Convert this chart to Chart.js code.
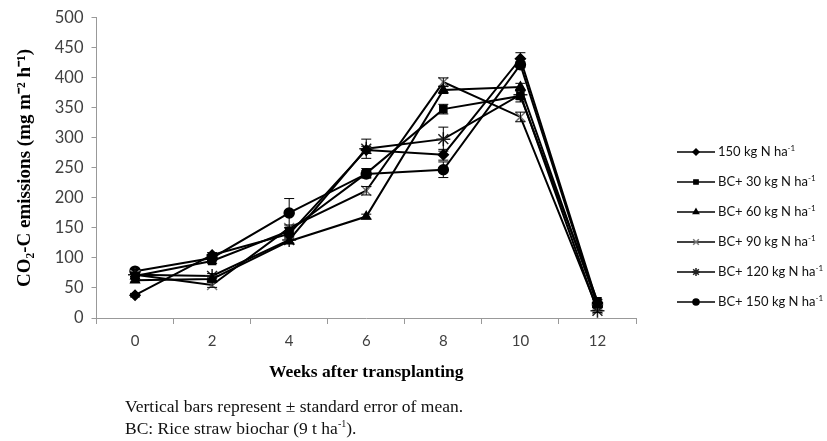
<!DOCTYPE html>
<html>
<head>
<meta charset="utf-8">
<script src="https://cdn.jsdelivr.net/npm/chart.js@4.4.0/dist/chart.umd.min.js"></script>
<style>
  body { margin: 0; background: #fff; }
  #wrap { position: relative; width: 827px; height: 441px; }
  #chart { position: absolute; left: 0; top: 0; }
  .note { position: absolute; left: 125px; font-family: "Liberation Serif", serif; font-size: 17.5px; color: #111; white-space: nowrap; }
  .note sup { font-size: 10px; }
</style>
</head>
<body>
<div id="wrap">
  <canvas id="chart" width="827" height="441"></canvas>
  <div class="note" style="top:396px">Vertical bars represent ± standard error of mean.</div>
  <div class="note" style="top:418px">BC: Rice straw biochar (9 t ha<sup>-1</sup>).</div>
</div>
<script>
// weeks after transplanting
const weeks = ['0', '2', '4', '6', '8', '10', '12'];
const yTicks = [0, 50, 100, 150, 200, 250, 300, 350, 400, 450, 500];

// CO2-C emissions (mg m-2 h-1)
const n150 = [38, 105, 140, 280, 272, 432, 25];
const bc30 = [70, 95, 145, 241, 348, 370, 28];
const bc60 = [63, 65, 128, 169, 380, 385, 22];
const bc90 = [72, 55, 150, 212, 393, 335, 15];
const bc120 = [72, 70, 130, 282, 298, 372, 12];
const bc150 = [78, 100, 175, 240, 247, 422, 22];

// standard errors
const n150Err = [3, 4, 5, 6, 9, 10, 3];
const bc30Err = [3, 4, 5, 8, 8, 10, 3];
const bc60Err = [3, 3, 4, 4, 6, 6, 3];
const bc90Err = [3, 4, 5, 7, 7, 8, 3];
const bc120Err = [3, 4, 5, 16, 20, 6, 3];
const bc150Err = [3, 4, 24, 6, 13, 5, 3];

const names = ['150 kg N ha', 'BC+ 30 kg N ha', 'BC+ 60 kg N ha', 'BC+ 90 kg N ha', 'BC+ 120 kg N ha', 'BC+ 150 kg N ha'];

const mk = (label, data, err, style, radius, color) => ({
  label, data, err,
  borderColor: '#000', borderWidth: 2, tension: 0,
  pointStyle: style, pointRadius: radius, pointBorderWidth: 1.5,
  pointBackgroundColor: color, pointBorderColor: color
});

const datasets = [
  mk(names[0], n150, n150Err, 'rectRot', 5, '#000'),
  mk(names[1], bc30, bc30Err, 'rect', 5, '#000'),
  mk(names[2], bc60, bc60Err, 'triangle', 5, '#000'),
  mk(names[3], bc90, bc90Err, 'crossRot', 7, '#777'),
  mk(names[4], bc120, bc120Err, 'star', 7, '#222'),
  mk(names[5], bc150, bc150Err, 'circle', 5, '#000')
];

// error bars drawn from the y scale
const errorBars = {
  id: 'errorBars',
  afterDatasetsDraw(chart) {
    const ctx = chart.ctx, y = chart.scales.y;
    ctx.save();
    ctx.strokeStyle = '#000';
    ctx.lineWidth = 1;
    chart.data.datasets.forEach((ds, i) => {
      chart.getDatasetMeta(i).data.forEach((pt, j) => {
        const v = ds.data[j], e = ds.err[j];
        const top = y.getPixelForValue(v + e), bot = y.getPixelForValue(v - e);
        ctx.beginPath();
        ctx.moveTo(pt.x, top); ctx.lineTo(pt.x, bot);
        ctx.moveTo(pt.x - 5, top); ctx.lineTo(pt.x + 5, top);
        ctx.moveTo(pt.x - 5, bot); ctx.lineTo(pt.x + 5, bot);
        ctx.stroke();
      });
    });
    ctx.restore();
  }
};

// legend with line + marker and superscript
const sideLegend = {
  id: 'sideLegend',
  afterDraw(chart) {
    const ctx = chart.ctx;
    ctx.save();
    chart.data.datasets.forEach((ds, i) => {
      const yy = 152 + i * 30;
      ctx.strokeStyle = '#000';
      ctx.lineWidth = 1.5;
      ctx.beginPath(); ctx.moveTo(677, yy); ctx.lineTo(715, yy); ctx.stroke();
      ctx.fillStyle = ds.pointBackgroundColor;
      ctx.strokeStyle = ds.pointBorderColor;
      Chart.helpers.drawPoint(ctx, {
        pointStyle: ds.pointStyle, radius: ds.pointStyle === 'crossRot' || ds.pointStyle === 'star' ? 4 : 3,
        rotation: 0, borderWidth: 1
      }, 696, yy);
      ctx.fillStyle = '#111';
      ctx.font = '13px Lato';
      ctx.textBaseline = 'middle';
      ctx.fillText(ds.label, 718, yy);
      const w = ctx.measureText(ds.label).width;
      ctx.font = '8px Lato';
      ctx.fillText('-1', 718 + w, yy - 4);
    });
    ctx.restore();
  }
};

new Chart(document.getElementById('chart'), {
  type: 'line',
  data: { labels: weeks, datasets },
  options: {
    responsive: false,
    animation: false,
    layout: { padding: { top: 7, right: 191, bottom: 54, left: 10 } },
    plugins: { legend: { display: false }, tooltip: { enabled: false } },
    scales: {
      x: {
        type: 'category',
        offset: true,
        grid: { display: true, offset: true, drawOnChartArea: false, drawTicks: true, tickLength: 6, color: '#999' },
        border: { color: '#999' },
        ticks: { color: '#404040', font: { family: 'Lato', size: 15 }, padding: 8 },
        title: {
          display: true, text: 'Weeks after transplanting', color: '#000',
          font: { family: 'Liberation Serif', size: 17.5, weight: 'bold' }, padding: { top: 4 }
        }
      },
      y: {
        min: 0, max: 500,
        afterBuildTicks: s => { s.ticks = yTicks.map(v => ({ value: v })); },
        grid: { display: true, drawOnChartArea: false, drawTicks: true, tickLength: 5, color: '#999' },
        border: { color: '#999' },
        ticks: { color: '#404040', font: { family: 'Lato', size: 16.5 }, padding: 8 },
        title: {
          display: true, text: 'CO\u2082-C emissions (mg m\u207B\u00B2 h\u207B\u00B9)', color: '#000',
          font: { family: 'Liberation Serif', size: 19, weight: 'bold' }, padding: { bottom: 10 }
        }
      }
    }
  },
  plugins: [errorBars, sideLegend]
});
</script>
</body>
</html>
